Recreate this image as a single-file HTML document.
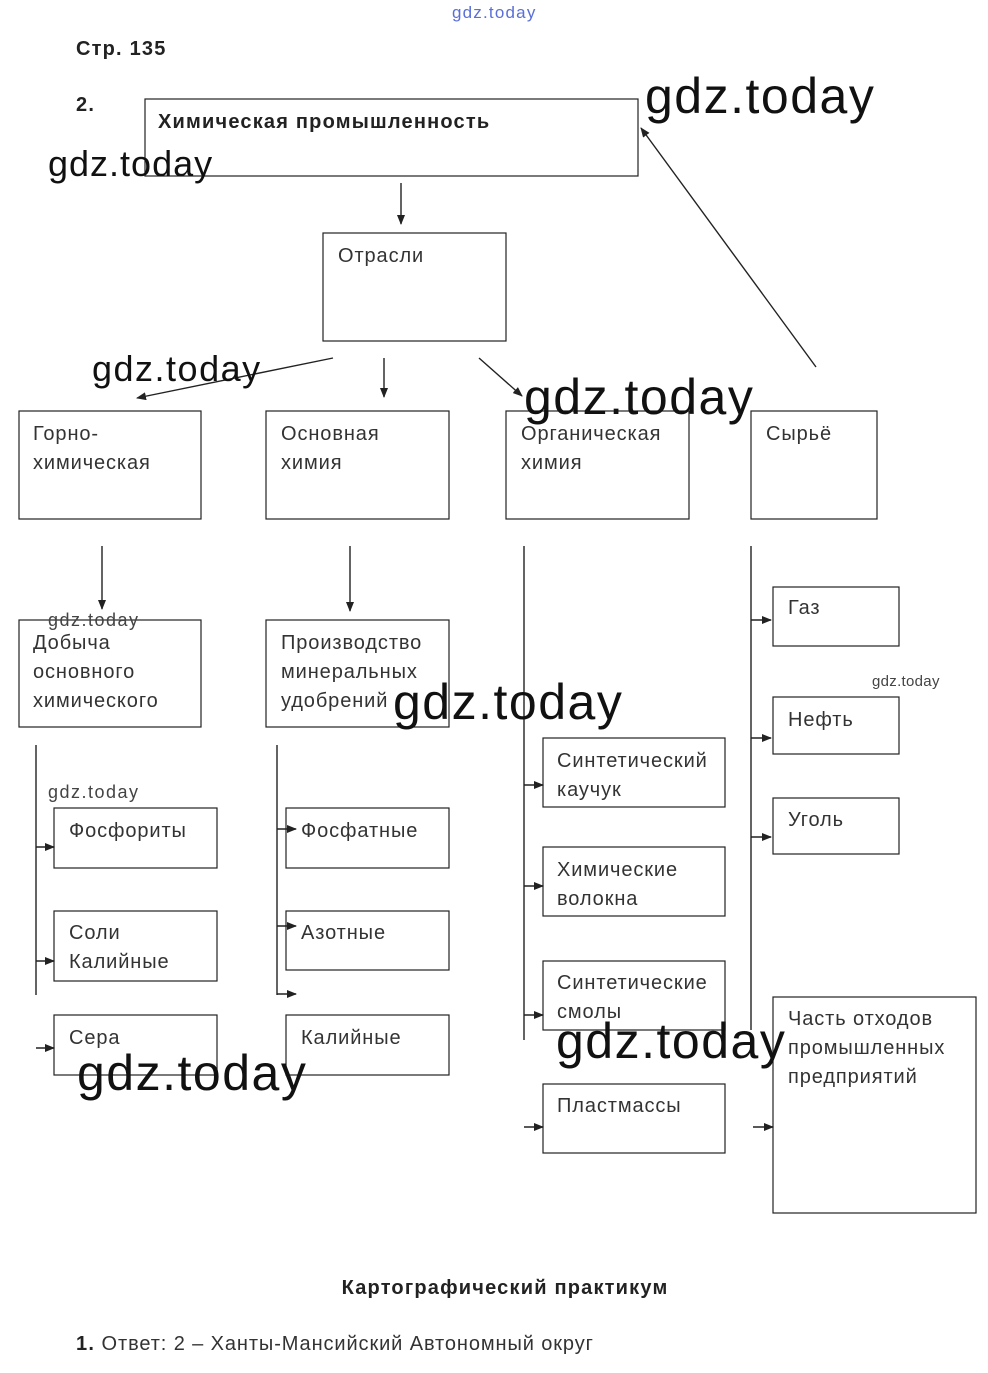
<!DOCTYPE html>
<html><head><meta charset="utf-8"><style>
html,body{margin:0;padding:0;background:#fff;}
svg{display:block;}
text{font-family:"Liberation Sans","DejaVu Sans",sans-serif;fill:#333;font-size:20px;letter-spacing:0.9px;}
.b{font-weight:bold;fill:#222;letter-spacing:1.2px;}
.w{font-size:50px;fill:#111;font-weight:normal;letter-spacing:1.5px;}
.ws{font-size:18px;fill:#444;letter-spacing:1.5px;}
rect{fill:none;stroke:#222;stroke-width:1.2;}
line{stroke:#222;stroke-width:1.4;}
</style></head><body>
<svg width="988" height="1373" viewBox="0 0 988 1373" xmlns="http://www.w3.org/2000/svg">
<defs><marker id="a" markerWidth="10" markerHeight="8" refX="9" refY="4" orient="auto" markerUnits="userSpaceOnUse"><path d="M0,0 L10,4 L0,8 z" fill="#222"/></marker></defs>
<text x="452" y="18" style="font-size:17px;fill:#5a6fd8;letter-spacing:1.2px">gdz.today</text>
<text x="76" y="55" class="b">Стр. 135</text>
<text x="76" y="111" class="b">2.</text>

<rect x="145" y="99" width="493" height="77"/><text x="158" y="128" class="b">Химическая промышленность</text>
<rect x="323" y="233" width="183" height="108"/><text x="338" y="262">Отрасли</text>
<rect x="19" y="411" width="182" height="108"/><text x="33" y="440">Горно-</text><text x="33" y="469">химическая</text>
<rect x="266" y="411" width="183" height="108"/><text x="281" y="440">Основная</text><text x="281" y="469">химия</text>
<rect x="506" y="411" width="183" height="108"/><text x="521" y="440">Органическая</text><text x="521" y="469">химия</text>
<rect x="751" y="411" width="126" height="108"/><text x="766" y="440">Сырьё</text>
<rect x="19" y="620" width="182" height="107"/><text x="33" y="649">Добыча</text><text x="33" y="678">основного</text><text x="33" y="707">химического</text>
<rect x="266" y="620" width="183" height="107"/><text x="281" y="649">Производство</text><text x="281" y="678">минеральных</text><text x="281" y="707">удобрений</text>
<rect x="54" y="808" width="163" height="60"/><text x="69" y="837">Фосфориты</text>
<rect x="54" y="911" width="163" height="70"/><text x="69" y="939">Соли</text><text x="69" y="968">Калийные</text>
<rect x="54" y="1015" width="163" height="60"/><text x="69" y="1044">Сера</text>
<rect x="286" y="808" width="163" height="60"/><text x="301" y="837">Фосфатные</text>
<rect x="286" y="911" width="163" height="59"/><text x="301" y="939">Азотные</text>
<rect x="286" y="1015" width="163" height="60"/><text x="301" y="1044">Калийные</text>
<rect x="543" y="738" width="182" height="69"/><text x="557" y="767">Синтетический</text><text x="557" y="796">каучук</text>
<rect x="543" y="847" width="182" height="69"/><text x="557" y="876">Химические</text><text x="557" y="905">волокна</text>
<rect x="543" y="961" width="182" height="69"/><text x="557" y="989">Синтетические</text><text x="557" y="1018">смолы</text>
<rect x="543" y="1084" width="182" height="69"/><text x="557" y="1112">Пластмассы</text>
<rect x="773" y="587" width="126" height="59"/><text x="788" y="614">Газ</text>
<rect x="773" y="697" width="126" height="57"/><text x="788" y="726">Нефть</text>
<rect x="773" y="798" width="126" height="56"/><text x="788" y="826">Уголь</text>
<rect x="773" y="997" width="203" height="216"/><text x="788" y="1025">Часть отходов</text><text x="788" y="1054">промышленных</text><text x="788" y="1083">предприятий</text>

<line x1="401" y1="183" x2="401" y2="224" marker-end="url(#a)"/>
<line x1="333" y1="358" x2="137" y2="398" marker-end="url(#a)"/>
<line x1="384" y1="358" x2="384" y2="397" marker-end="url(#a)"/>
<line x1="479" y1="358" x2="522" y2="396" marker-end="url(#a)"/>
<line x1="816" y1="367" x2="641" y2="128" marker-end="url(#a)"/>
<line x1="102" y1="546" x2="102" y2="609" marker-end="url(#a)"/>
<line x1="350" y1="546" x2="350" y2="611" marker-end="url(#a)"/>

<line x1="36" y1="745" x2="36" y2="995"/>
<line x1="36" y1="847" x2="54" y2="847" marker-end="url(#a)"/>
<line x1="36" y1="961" x2="54" y2="961" marker-end="url(#a)"/>
<line x1="36" y1="1048" x2="54" y2="1048" marker-end="url(#a)"/>
<line x1="277" y1="745" x2="277" y2="995"/>
<line x1="277" y1="829" x2="296" y2="829" marker-end="url(#a)"/>
<line x1="277" y1="926" x2="296" y2="926" marker-end="url(#a)"/>
<line x1="277" y1="994" x2="296" y2="994" marker-end="url(#a)"/>
<line x1="524" y1="546" x2="524" y2="1040"/>
<line x1="524" y1="785" x2="543" y2="785" marker-end="url(#a)"/>
<line x1="524" y1="886" x2="543" y2="886" marker-end="url(#a)"/>
<line x1="524" y1="1015" x2="543" y2="1015" marker-end="url(#a)"/>
<line x1="524" y1="1127" x2="543" y2="1127" marker-end="url(#a)"/>
<line x1="751" y1="546" x2="751" y2="1030"/>
<line x1="751" y1="620" x2="771" y2="620" marker-end="url(#a)"/>
<line x1="751" y1="738" x2="771" y2="738" marker-end="url(#a)"/>
<line x1="751" y1="837" x2="771" y2="837" marker-end="url(#a)"/>
<line x1="753" y1="1127" x2="773" y2="1127" marker-end="url(#a)"/>

<text x="645" y="113" class="w">gdz.today</text>
<text x="48" y="176" class="w" style="font-size:36px;letter-spacing:1px">gdz.today</text>
<text x="92" y="381" class="w" style="font-size:36px;letter-spacing:1.5px">gdz.today</text>
<text x="524" y="414" class="w">gdz.today</text>
<text x="48" y="626" class="ws">gdz.today</text>
<text x="393" y="719" class="w">gdz.today</text>
<text x="872" y="686" class="ws" style="font-size:15px;letter-spacing:0.3px">gdz.today</text>
<text x="48" y="798" class="ws">gdz.today</text>
<text x="556" y="1058" class="w">gdz.today</text>
<text x="77" y="1090" class="w">gdz.today</text>

<text x="505" y="1294" class="b" text-anchor="middle">Картографический практикум</text>
<text x="76" y="1350"><tspan class="b">1.</tspan> Ответ: 2 – Ханты-Мансийский Автономный округ</text>
</svg>
</body></html>
